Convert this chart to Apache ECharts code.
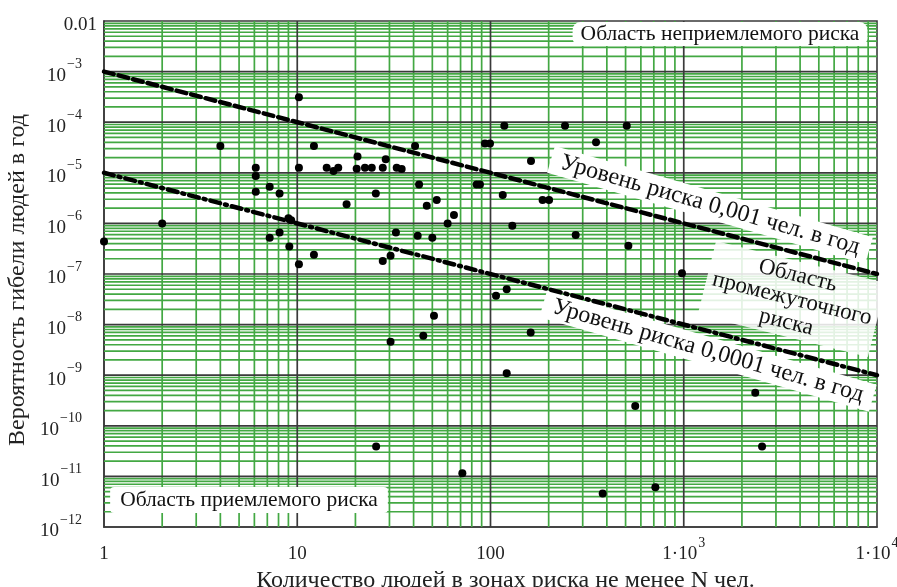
<!DOCTYPE html>
<html>
<head>
<meta charset="utf-8">
<script src="https://cdn.jsdelivr.net/npm/echarts@6/dist/echarts.min.js"></script>
<style>
html,body{margin:0;padding:0;background:#fff;}
#chart{width:897px;height:587px;}
</style>
</head>
<body>
<div id="chart"></div>
<script>
// ---- data ----
const xTickValues = [1, 10, 100, 1000, 10000];
const xTickLabels = ['{b|1}', '{b|10}', '{b|100}', '{b|1·10}{s|3}', '{b|1·10}{s|4}'];
const yTickValues = [1e-12, 1e-11, 1e-10, 1e-9, 1e-8, 1e-7, 1e-6, 1e-5, 1e-4, 1e-3, 1e-2];
const yTickLabels = ['{b|10}{t|−12}', '{b|10}{t|−11}', '{b|10}{t|−10}', '{b|10}{t|−9}', '{b|10}{t|−8}',
  '{b|10}{t|−7}', '{b|10}{t|−6}', '{b|10}{t|−5}', '{b|10}{t|−4}', '{b|10}{t|−3}', '{b|0.01}'];

// risk level lines (N, probability)
const upperRiskLine = [[1, 1e-3], [10000, 1e-7]];
const lowerRiskLine = [[1, 1e-5], [10000, 1e-9]];

// observed points (N, probability)
const points = [
  [1, 4.4e-7], [2, 1.0e-6], [4, 3.4e-5], [6.1, 1.26e-5], [6.1, 8.6e-6], [6.1, 4.2e-6],
  [7.2, 5.3e-6], [8.1, 3.9e-6], [9.0, 1.26e-6], [9.3, 1.15e-6], [8.1, 6.6e-7], [7.2, 5.2e-7],
  [9.1, 3.5e-7], [10.2, 3.1e-4], [10.2, 1.26e-5], [10.2, 1.55e-7], [12.2, 3.4e-5], [12.2, 2.4e-7],
  [14.2, 1.26e-5], [15.4, 1.09e-5], [16.3, 1.26e-5], [18, 2.4e-6], [20.5, 2.1e-5], [20.3, 1.2e-5],
  [22.4, 1.26e-5], [24.3, 1.26e-5], [25.5, 3.9e-6], [27.7, 1.26e-5], [28.7, 1.85e-5], [27.7, 1.8e-7],
  [30.4, 2.3e-7], [30.4, 4.6e-9], [32.4, 6.6e-7], [32.7, 1.26e-5], [34.7, 1.19e-5], [40.7, 3.4e-5],
  [42.7, 5.9e-6], [42, 5.7e-7], [44.9, 6.0e-9], [46.8, 2.24e-6], [50, 5.2e-7], [51, 1.5e-8],
  [52.7, 2.9e-6], [60, 1.0e-6], [64.7, 1.47e-6], [84.8, 5.9e-6], [88.2, 5.9e-6], [93.6, 3.8e-5],
  [99.4, 3.8e-5], [25.6, 3.9e-11], [71.5, 1.15e-11], [106.8, 3.7e-8], [115.7, 3.64e-6], [117.9, 8.5e-5],
  [121.3, 5.0e-8], [121.3, 1.09e-9], [129.7, 9.0e-7], [161.4, 7.0e-9], [162, 1.71e-5], [186, 2.9e-6],
  [201, 2.9e-6], [243, 8.5e-5], [276, 5.9e-7], [351.6, 4.0e-5], [380.7, 4.6e-12], [507, 8.5e-5],
  [517, 3.6e-7], [561, 2.46e-10], [713, 6.1e-12], [979, 1.03e-7], [2345, 4.5e-10], [2542, 3.9e-11]
];

const xAxisTitle = 'Количество людей в зонах риска не менее N чел.';
const yAxisTitle = 'Вероятность гибели людей в год';
const labelUnacceptable = 'Область неприемлемого риска';
const labelAcceptable = 'Область приемлемого риска';
const labelUpper = 'Уровень риска 0,001 чел. в год';
const labelLower = 'Уровень риска 0,0001 чел. в год';
const labelMiddle = 'Область\nпромежуточного\nриска';

// ---- log-paper grid lines (drawn through the axes' scales) ----
const FONT = '"Liberation Serif", "Times New Roman", serif';
const GREEN = '#43a843';
const DARK = '#3a3a3a';
const minorMult = [2, 3, 4, 5, 6, 7, 8, 9];
const vLines = []; // [xValue, anchorY, isMajor]
const hLines = []; // [anchorX, yValue, isMajor]
xTickValues.slice(0, -1).forEach(d => minorMult.forEach(m => vLines.push([d * m, 1e-7, 0])));
xTickValues.slice(1, -1).forEach(d => vLines.push([d, 1e-7, 1]));
yTickValues.slice(0, -1).forEach(d => minorMult.forEach(m => hLines.push([10, d * m, 0])));
yTickValues.slice(1, -1).forEach(d => hLines.push([10, d, 1]));

function gridRender(vertical) {
  return function (params, api) {
    const cs = params.coordSys;
    const p = api.coord([api.value(0), api.value(1)]);
    const major = api.value(2) === 1;
    const shape = vertical
      ? { x1: p[0], y1: cs.y, x2: p[0], y2: cs.y + cs.height }
      : { x1: cs.x, y1: p[1], x2: cs.x + cs.width, y2: p[1] };
    return {
      type: 'line', shape: shape, z2: major ? 10 : 1,
      style: { stroke: major ? DARK : GREEN, lineWidth: 1.7 }
    };
  };
}

function tickFormatter(values, labels) {
  return function (v) {
    const e = Math.round(Math.log10(v));
    for (let i = 0; i < values.length; i++) {
      if (Math.round(Math.log10(values[i])) === e) return labels[i];
    }
    return '';
  };
}
const rich = {
  b: { fontFamily: FONT, fontSize: 19, color: '#222', verticalAlign: 'bottom', lineHeight: 28 },
  s: { fontFamily: FONT, fontSize: 14, color: '#222', verticalAlign: 'top', lineHeight: 28, padding: [0, 0, 12, 1] },
  t: { fontFamily: FONT, fontSize: 14, color: '#222', verticalAlign: 'top', lineHeight: 28, padding: [0, 15, 12, 1] }
};

const chart = echarts.init(document.getElementById('chart'), null, { renderer: 'canvas' });
chart.setOption({
  animation: false,
  backgroundColor: '#fff',
  grid: { left: 104, top: 21, right: 20, bottom: 60, outerBoundsMode: 'none', containLabel: false, show: true, borderColor: DARK, borderWidth: 1.6, backgroundColor: '#fff' },
  xAxis: {
    type: 'log', logBase: 10, min: 1, max: 10000, splitNumber: 4,
    axisLine: { show: true, lineStyle: { color: DARK, width: 1.6 } },
    axisTick: { show: false }, splitLine: { show: false },
    axisLabel: { formatter: tickFormatter(xTickValues, xTickLabels), rich: rich, margin: 9, showMinLabel: true, showMaxLabel: true },
    name: xAxisTitle, nameLocation: 'middle', nameGap: 35,
    nameTextStyle: { fontFamily: FONT, fontSize: 24, color: '#222', padding: [0, 0, 0, 30] }
  },
  yAxis: {
    type: 'log', logBase: 10, min: 1e-12, max: 1e-2, splitNumber: 10,
    axisLine: { show: true, lineStyle: { color: DARK, width: 1.6 } },
    axisTick: { show: false }, splitLine: { show: false },
    axisLabel: { formatter: tickFormatter(yTickValues, yTickLabels), rich: rich, margin: 7, showMinLabel: true, showMaxLabel: true },
    name: yAxisTitle, nameLocation: 'middle', nameGap: 69,
    nameTextStyle: { fontFamily: FONT, fontSize: 24, color: '#222', padding: [0, 12, 0, 0] }
  },
  series: [
    { type: 'custom', data: vLines, renderItem: gridRender(true), silent: true, z: 1, encode: { x: 0, y: 1 } },
    { type: 'custom', data: hLines, renderItem: gridRender(false), silent: true, z: 1, encode: { x: 0, y: 1 } },
    {
      type: 'line', data: upperRiskLine, showSymbol: false, z: 5,
      lineStyle: { color: '#000', width: 4.5, type: [10, 5], cap: 'round' }
    },
    {
      type: 'line', data: lowerRiskLine, showSymbol: false, z: 5,
      lineStyle: { color: '#000', width: 4.5, type: [10, 5, 2, 5], cap: 'round' }
    },
    {
      type: 'scatter', data: points, symbol: 'circle', symbolSize: 8, z: 6,
      itemStyle: { color: '#000', opacity: 1 }
    }
  ],
  graphic: [
    { type: 'text', x: 720, y: 34, z: 100, style: { text: labelUnacceptable, font: '21.5px ' + FONT, fill: '#111', align: 'center', verticalAlign: 'middle', backgroundColor: '#fff', padding: [1, 8, 1, 8], borderRadius: 8 } },
    { type: 'text', x: 249, y: 500, z: 100, style: { text: labelAcceptable, font: '21.5px ' + FONT, fill: '#111', align: 'center', verticalAlign: 'middle', backgroundColor: '#fff', padding: [2, 10, 2, 10], borderRadius: 4 } },
    { type: 'text', x: 710, y: 205, z: 4, rotation: -16 * Math.PI / 180, style: { text: labelUpper, font: '24px ' + FONT, fill: '#111', align: 'center', verticalAlign: 'middle', backgroundColor: '#fff', padding: [2, 10, 2, 10] } },
    { type: 'text', x: 708, y: 351, z: 4, rotation: -16 * Math.PI / 180, style: { text: labelLower, font: '24px ' + FONT, fill: '#111', align: 'center', verticalAlign: 'middle', backgroundColor: '#fff', padding: [2, 10, 2, 10] } },
    { type: 'text', x: 792, y: 299, z: 4, rotation: -14 * Math.PI / 180, style: { text: labelMiddle, font: '23px ' + FONT, fill: '#111', align: 'center', verticalAlign: 'middle', lineHeight: 24, backgroundColor: 'rgba(255,255,255,0.85)', padding: [2, 6, 2, 6] } }
  ]
});
</script>
</body>
</html>
